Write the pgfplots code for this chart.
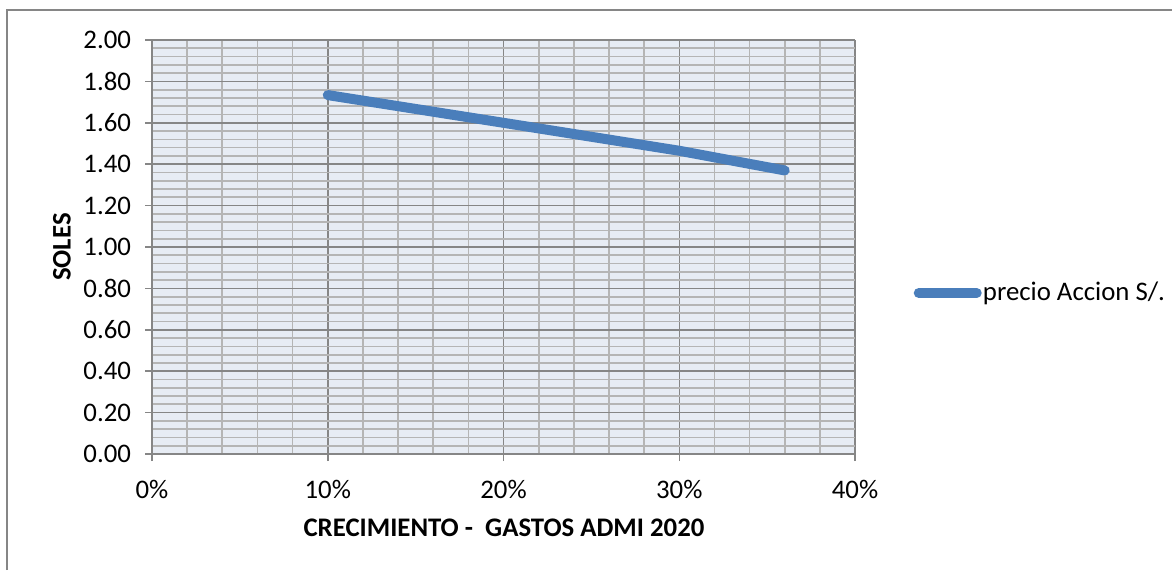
\documentclass[border=0pt]{standalone}
\usepackage{pgfplots}
\pgfplotsset{compat=1.18}
\usepackage{fontspec}
\setmainfont{Carlito}
\definecolor{lineblue}{HTML}{4A7EBB}
\definecolor{bggrid}{HTML}{E7ECF4}
\definecolor{majg}{HTML}{868686}
\definecolor{ming}{HTML}{B5B5B5}
\begin{document}
\begin{tikzpicture}
\path[use as bounding box] (0pt,0pt) rectangle (586pt,285pt);
\draw[majg, line width=0.8pt] (3.5pt,0pt) -- (3.5pt,280pt) -- (586pt,280pt);
\begin{axis}[
  at={(76pt,58pt)}, anchor=south west,
  scale only axis, width=351.5pt, height=207pt,
  xmin=0, xmax=0.4, ymin=0, ymax=2,
  xtick={0,0.1,0.2,0.3,0.4},
  xticklabels={0\%,10\%,20\%,30\%,40\%},
  ytick={0,0.2,...,2.01},
  minor x tick num=4, minor y tick num=4,
  grid=both,
  major grid style={majg, line width=0.75pt},
  minor grid style={ming, line width=0.85pt},
  axis background/.style={fill=bggrid},
  axis line style={majg, line width=0.75pt},
  axis x line*=bottom, axis y line*=left,
  tick align=outside,
  major tick length=3.5pt, minor tick length=0pt,
  tick style={majg, line width=0.75pt},
  yticklabel style={/pgf/number format/fixed, /pgf/number format/fixed zerofill, /pgf/number format/precision=2},
  /pgf/number format/assume math mode=true,
  ticklabel style={font=\fontsize{13.4}{15}\selectfont, black},
  xticklabel style={yshift=-6pt},
  yticklabel style={xshift=-3.5pt},
  xlabel={\textbf{CRECIMIENTO -\ \ GASTOS ADMI 2020}},
  ylabel={\textbf{SOLES}},
  label style={font=\fontsize{13.4}{15}\selectfont},
  xlabel style={at={(axis description cs:0.5007,-0.179)}, anchor=center},
  ylabel style={at={(axis description cs:-0.128,0.5)}, anchor=center},
  legend style={at={(axis description cs:1.083,0.389)}, anchor=west, draw=none, fill=none,
    font=\fontsize{13.4}{15}\selectfont, inner sep=0pt, nodes={inner sep=0.6pt}},
  legend image code/.code={\draw[#1, line cap=round] (0pt,0pt) -- (29pt,0pt);},
  legend cell align=left,
]
\addplot[lineblue, line width=5pt, line cap=round, line join=round] coordinates {
  (0.10,1.734) (0.20,1.600) (0.30,1.465) (0.36,1.370)
};
\addlegendentry{precio Accion S/.}
\end{axis}
\end{tikzpicture}
\end{document}
